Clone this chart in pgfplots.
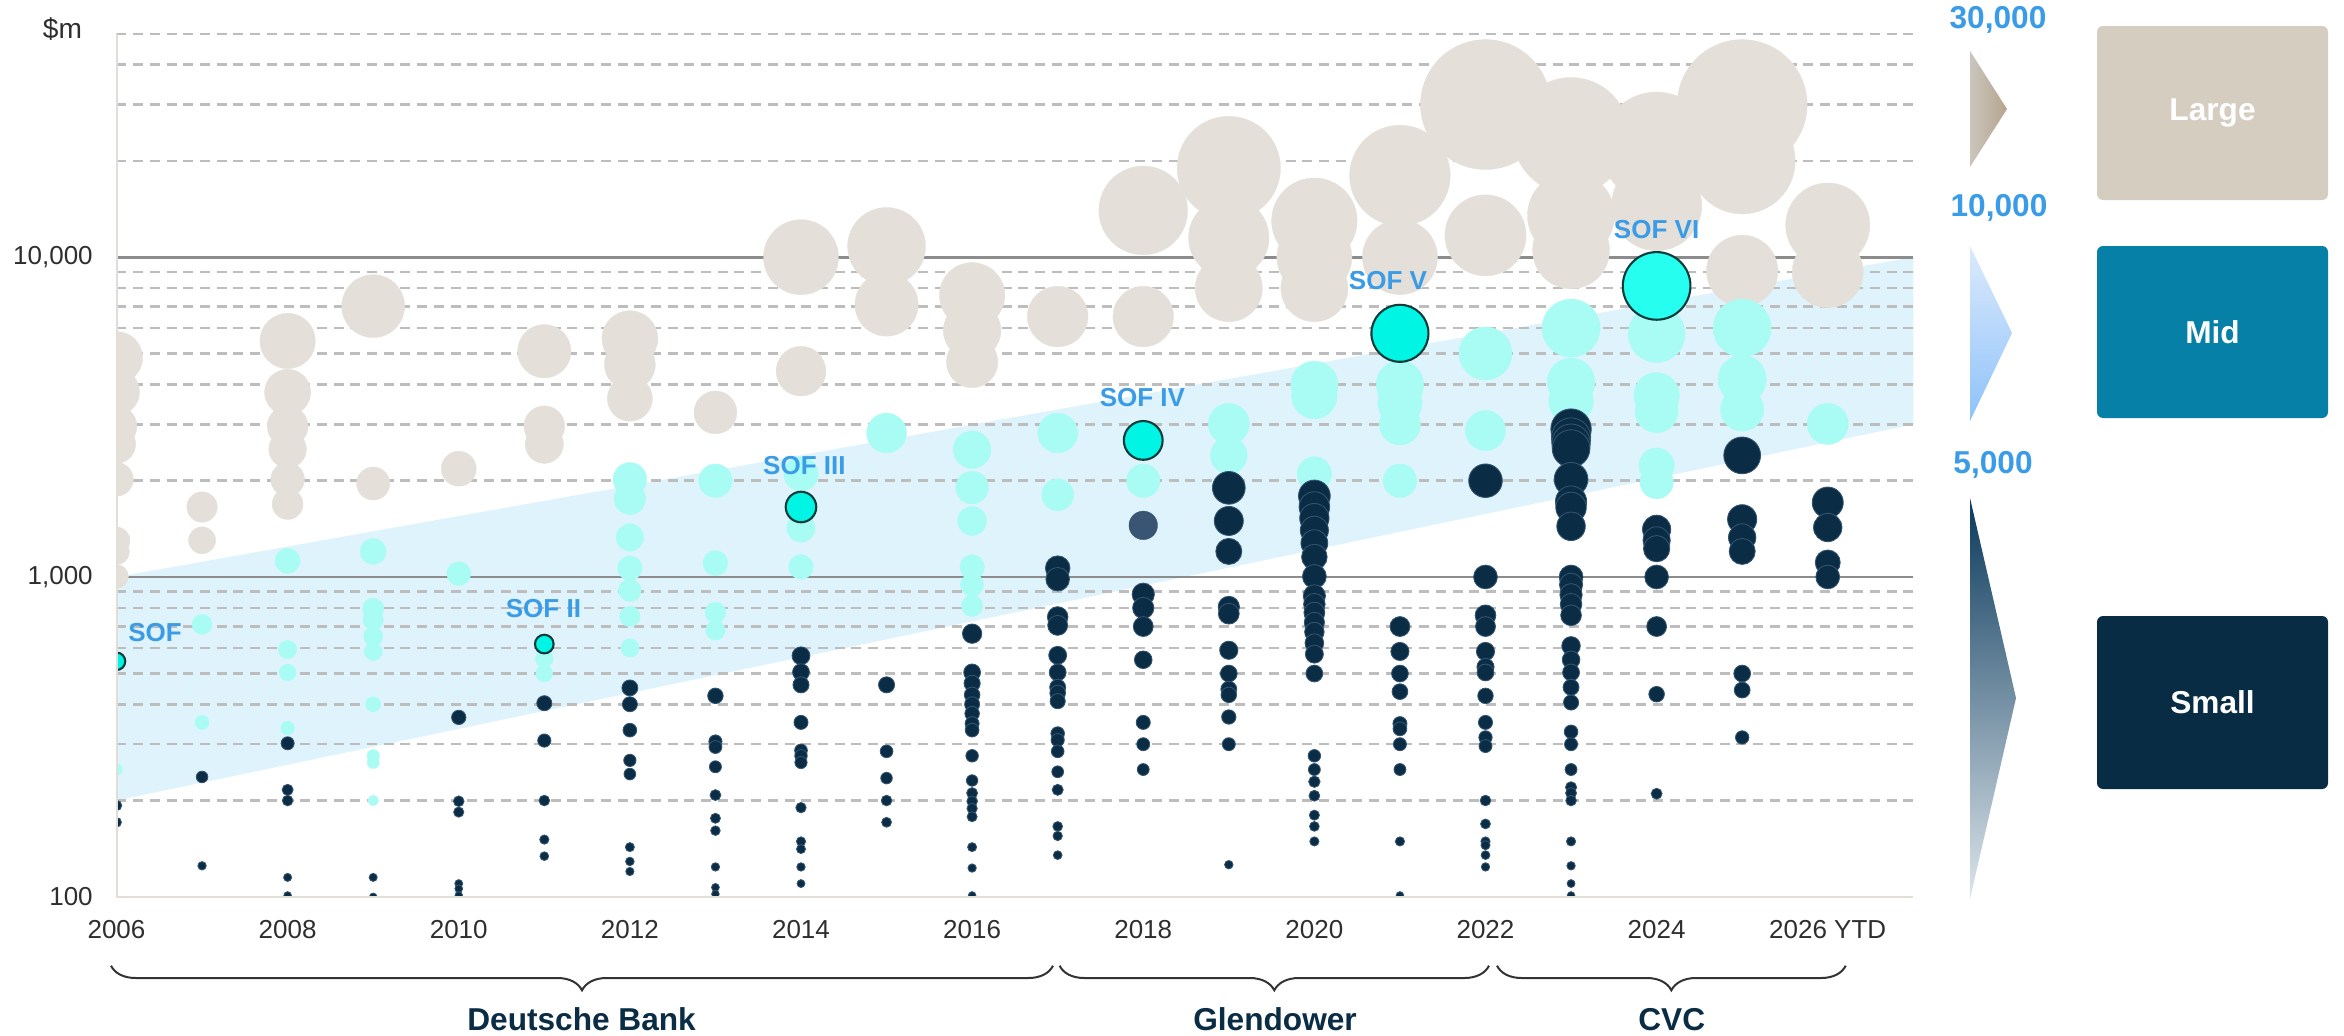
\documentclass[border=0pt]{standalone}
\usepackage{fontspec}
\setmainfont{Liberation Sans}
\usepackage{pgfplots}
\usepackage{pgfplotstable}
\pgfplotsset{compat=1.18}
\usetikzlibrary{decorations.pathreplacing}

\definecolor{cbeige}{HTML}{E4E0D9}
\definecolor{ccyan}{HTML}{A9FCF4}
\definecolor{cnavy}{HTML}{0A2C44}
\definecolor{cnavyedge}{HTML}{34536F}
\definecolor{csof}{HTML}{00F5E4}
\definecolor{csofvi}{HTML}{26FFF0}
\definecolor{csofedge}{HTML}{0B3B3A}
\definecolor{cslate}{HTML}{3A5473}
\definecolor{cband}{HTML}{DFF3FC}
\definecolor{cmajor}{HTML}{8C8C8C}
\definecolor{cminor}{HTML}{BDBDBD}
\definecolor{caxis}{HTML}{E2DDD5}
\definecolor{ctick}{HTML}{2E2E2E}
\definecolor{csoflab}{HTML}{3A9BE6}
\definecolor{cgroup}{HTML}{0A2C44}
\definecolor{cbrace}{HTML}{333333}
\definecolor{clarge}{HTML}{D5CDC0}
\definecolor{cmid}{HTML}{0780A8}
\definecolor{csmall}{HTML}{082C44}
\definecolor{ctri1a}{HTML}{CBC5BD}
\definecolor{ctri1b}{HTML}{B4A58E}
\definecolor{ctri2a}{HTML}{DCEAFC}
\definecolor{ctri2b}{HTML}{8EC2FA}
\definecolor{ctri3a}{HTML}{0B3A5C}
\definecolor{ctri3m}{HTML}{10476C}
\definecolor{ctri3b}{HTML}{DDE5EB}

\pgfplotstableread[row sep=\\]{
x v\\
2006 4850\\ 2006 3790\\ 2006 2960\\ 2006 2600\\ 2006 2020\\ 2006 1300\\ 2006 1200\\ 2006 1004\\
2007 1655\\ 2007 1302\\
2008 5470\\ 2008 3780\\ 2008 2960\\ 2008 2510\\ 2008 2020\\ 2008 1690\\
2009 7030\\ 2009 1960\\
2010 2180\\
2011 5080\\ 2011 2960\\ 2011 2600\\
2012 5560\\ 2012 4620\\ 2012 3610\\
2013 3270\\
2014 10000\\ 2014 4400\\
2015 10800\\ 2015 7110\\
2016 7600\\ 2016 5900\\ 2016 4700\\
2017 6520\\
2018 14000\\ 2018 6520\\
2019 19000\\ 2019 11500\\ 2019 8000\\
2020 13000\\ 2020 10000\\ 2020 8000\\
2021 18000\\ 2021 10000\\
2022 30000\\ 2022 11700\\
2023 24000\\ 2023 13500\\ 2023 10500\\
2024 22000\\ 2024 14500\\
2025 30000\\ 2025 20000\\ 2025 9060\\
2026 12600\\ 2026 8980\\
}\tblbeige

\pgfplotstableread[row sep=\\]{
x v\\
2006 250\\
2007 711\\ 2007 351\\
2008 1123\\ 2008 593\\ 2008 503\\ 2008 337\\
2009 1202\\ 2009 796\\ 2009 735\\ 2009 652\\ 2009 585\\ 2009 400\\ 2009 276\\ 2009 263\\ 2009 200\\
2010 1024\\
2011 556\\ 2011 499\\
2012 2020\\ 2012 1757\\ 2012 1329\\ 2012 1066\\ 2012 908\\ 2012 753\\ 2012 600\\
2013 2000\\ 2013 1105\\ 2013 774\\ 2013 681\\
2014 2100\\ 2014 1422\\ 2014 1075\\
2015 2820\\
2016 2500\\ 2016 1904\\ 2016 1497\\ 2016 1075\\ 2016 946\\ 2016 812\\
2017 2820\\ 2017 1807\\
2018 2000\\
2019 3010\\ 2019 2400\\
2020 3990\\ 2020 3680\\ 2020 2100\\
2021 4000\\ 2021 3500\\ 2021 3000\\ 2021 2000\\
2022 5000\\ 2022 2870\\
2023 6000\\ 2023 4070\\ 2023 3540\\
2024 5750\\ 2024 3700\\ 2024 3300\\ 2024 2230\\ 2024 1980\\
2025 6000\\ 2025 4150\\ 2025 3340\\
2026 3010\\
}\tblcyan

\pgfplotstableread[row sep=\\]{
x v\\
2006 193\\ 2006 171\\
2007 237\\ 2007 125\\
2008 302\\ 2008 216\\ 2008 200\\ 2008 115\\ 2008 101\\
2009 115\\ 2009 100\\
2010 364\\ 2010 199\\ 2010 184\\ 2010 110\\ 2010 106\\ 2010 101\\
2011 403\\ 2011 308\\ 2011 200\\ 2011 151\\ 2011 134\\
2012 450\\ 2012 400\\ 2012 332\\ 2012 267\\ 2012 242\\ 2012 143\\ 2012 129\\ 2012 120\\
2013 425\\ 2013 306\\ 2013 294\\ 2013 255\\ 2013 208\\ 2013 176\\ 2013 161\\ 2013 124\\ 2013 107\\ 2013 102\\
2014 567\\ 2014 504\\ 2014 460\\ 2014 351\\ 2014 287\\ 2014 276\\ 2014 263\\ 2014 190\\ 2014 149\\ 2014 141\\ 2014 124\\ 2014 110\\
2015 460\\ 2015 285\\ 2015 235\\ 2015 200\\ 2015 171\\
2016 665\\ 2016 503\\ 2016 465\\ 2016 428\\ 2016 400\\ 2016 374\\ 2016 348\\ 2016 332\\ 2016 276\\ 2016 231\\ 2016 211\\ 2016 199\\ 2016 189\\ 2016 178\\ 2016 143\\ 2016 123\\ 2016 101\\
2017 1066\\ 2017 984\\ 2017 750\\ 2017 706\\ 2017 569\\ 2017 503\\ 2017 452\\ 2017 434\\ 2017 409\\ 2017 324\\ 2017 309\\ 2017 285\\ 2017 246\\ 2017 216\\ 2017 166\\ 2017 155\\ 2017 135\\
2018 883\\ 2018 800\\ 2018 700\\ 2018 551\\ 2018 351\\ 2018 300\\ 2018 250\\
2019 1900\\ 2019 1497\\ 2019 1202\\ 2019 806\\ 2019 768\\ 2019 590\\ 2019 499\\ 2019 446\\ 2019 428\\ 2019 365\\ 2019 300\\ 2019 126\\
2020 1792\\ 2020 1655\\ 2020 1528\\ 2020 1400\\ 2020 1276\\ 2020 1155\\ 2020 1004\\ 2020 873\\ 2020 822\\ 2020 774\\ 2020 721\\ 2020 673\\ 2020 621\\ 2020 574\\ 2020 499\\ 2020 276\\ 2020 250\\ 2020 229\\ 2020 207\\ 2020 180\\ 2020 166\\ 2020 149\\
2021 700\\ 2021 585\\ 2021 499\\ 2021 438\\ 2021 348\\ 2021 335\\ 2021 300\\ 2021 250\\ 2021 149\\ 2021 101\\
2022 2000\\ 2022 1000\\ 2022 759\\ 2022 700\\ 2022 585\\ 2022 523\\ 2022 503\\ 2022 425\\ 2022 351\\ 2022 315\\ 2022 296\\ 2022 200\\ 2022 169\\ 2022 149\\ 2022 145\\ 2022 135\\ 2022 124\\
2023 2900\\ 2023 2730\\ 2023 2620\\ 2023 2520\\ 2023 2020\\ 2023 1722\\ 2023 1650\\ 2023 1440\\ 2023 1000\\ 2023 946\\ 2023 880\\ 2023 822\\ 2023 759\\ 2023 609\\ 2023 551\\ 2023 503\\ 2023 452\\ 2023 405\\ 2023 328\\ 2023 300\\ 2023 250\\ 2023 220\\ 2023 211\\ 2023 200\\ 2023 149\\ 2023 125\\ 2023 110\\ 2023 101\\
2024 1410\\ 2024 1302\\ 2024 1226\\ 2024 1000\\ 2024 700\\ 2024 430\\ 2024 210\\
2025 2400\\ 2025 1515\\ 2025 1329\\ 2025 1202\\ 2025 499\\ 2025 443\\ 2025 315\\
2026 1709\\ 2026 1428\\ 2026 1110\\ 2026 1000\\
}\tblnavy

\pgfplotstableread[row sep=\\]{
x v\\
2018 1450\\
}\tblslate

\pgfplotstableread[row sep=\\]{
x v\\
2006 545\\ 2011 617\\ 2014 1655\\ 2018 2673\\ 2021 5780\\
}\tblsof

\pgfplotstableread[row sep=\\]{
x v\\
2024 8130\\
}\tblsofvi

\pgfplotsset{
  bub/.style 2 args={scatter, only marks, mark=*, forget plot,
    scatter/use mapped color={draw=#2, fill=#1},
    visualization depends on={0.1067*sqrt(\thisrow{v}) \as \rad},
    scatter/@pre marker code/.append style={/tikz/mark size=\rad}},
}

\begin{document}
\begin{tikzpicture}
\path[use as bounding box] (0,0) rectangle (23.44,10.35);
\begin{axis}[
  at={(1.165cm,1.382cm)}, anchor=south west,
  scale only axis, width=17.968cm, height=8.632cm,
  xmin=2006, xmax=2027, ymin=100, ymax=50000, ymode=log,
  clip marker paths=true,
  axis line style={draw=none},
  xtick={2006,2008,2010,2012,2014,2016,2018,2020,2022,2024,2026},
  xticklabels={2006,2008,2010,2012,2014,2016,2018,2020,2022,2024,2026 YTD},
  ytick={100,1000,10000}, yticklabels={100,{1,000},{10,000}},
  minor ytick={},
  major tick length=0pt, minor tick length=0pt,
  tick style={draw=none},
  tick label style={font=\fontsize{7.4}{8}\selectfont, text=ctick, inner sep=0pt},
  yticklabel style={anchor=east, xshift=-0.231cm},
  xticklabel style={anchor=base, yshift=-0.416cm},
]
\addplot[fill=cband, draw=none, forget plot]
  coordinates {(2006,200) (2027,3000) (2027,10000) (2006,1000)} -- cycle;

\pgfplotsinvokeforeach{200,300,400,500,600,700,800,900,2000,3000,4000,5000,6000,7000,8000,9000,20000,30000,40000,50000}{
  \addplot[draw=cminor, line width=0.025cm, dash pattern=on 0.1cm off 0.067cm, forget plot]
    coordinates {(2006,#1) (2027,#1)};
}
\pgfplotsinvokeforeach{1000,10000}{
  \addplot[draw=cmajor, line width=0.028cm, forget plot]
    coordinates {(2006,#1) (2027,#1)};
}

\addplot[bub={cbeige}{cbeige}, line width=0.1pt] table[x=x,y=v]{\tblbeige};
\addplot[bub={ccyan}{ccyan}, line width=0.1pt] table[x=x,y=v]{\tblcyan};
\addplot[bub={cnavy}{cnavyedge}, line width=0.25pt] table[x=x,y=v]{\tblnavy};
\addplot[bub={cslate}{cslate}, line width=0.1pt] table[x=x,y=v]{\tblslate};
\addplot[bub={csof}{csofedge}, line width=0.6pt] table[x=x,y=v]{\tblsof};
\addplot[bub={csofvi}{csofedge}, line width=0.6pt] table[x=x,y=v]{\tblsofvi};

\coordinate (l1) at (axis cs:2006.45,670);
\coordinate (l2) at (axis cs:2010.99,796);
\coordinate (l3) at (axis cs:2014.04,2230);
\coordinate (l4) at (axis cs:2017.99,3630);
\coordinate (l5) at (axis cs:2020.86,8430);
\coordinate (l6) at (axis cs:2024.0,12170);
\end{axis}

\begin{scope}[every node/.style={font=\bfseries\fontsize{7.4}{8}\selectfont, text=csoflab}]
\node at (l1) {SOF};
\node at (l2) {SOF II};
\node at (l3) {SOF III};
\node at (l4) {SOF IV};
\node at (l5) {SOF V};
\node at (l6) {SOF VI};
\end{scope}

% axis lines
\draw[caxis, line width=0.02cm] (1.165,10.014) -- (1.165,1.382) -- (19.133,1.382);

% unit label
\node[font=\fontsize{8}{9}\selectfont, text=ctick] at (0.625,10.063) {\$m};

% braces
\begin{scope}[cbrace, line width=0.02cm, decoration={brace, mirror, amplitude=0.246cm}]
\draw[decorate] (1.11,0.693) -- (10.53,0.693);
\draw[decorate] (10.596,0.693) -- (14.89,0.693);
\draw[decorate] (14.97,0.693) -- (18.457,0.693);
\end{scope}
\begin{scope}[every node/.style={anchor=base, font=\bfseries\fontsize{9}{10}\selectfont, text=cgroup}]
\node at (5.816,0.045) {Deutsche Bank};
\node at (12.75,0.045) {Glendower};
\node at (16.717,0.045) {CVC};
\end{scope}

% right legend
\begin{scope}[every node/.style={font=\bfseries\fontsize{9}{10}\selectfont, text=csoflab}]
\node at (19.98,10.152) {30,000};
\node at (19.99,8.27) {10,000};
\node at (19.93,5.70) {5,000};
\end{scope}
\shade[left color=ctri1a, right color=ctri1b] (19.70,9.84) -- (20.07,9.26) -- (19.70,8.68) -- cycle;
\shade[top color=ctri2a, bottom color=ctri2b] (19.70,7.89) -- (20.12,7.02) -- (19.70,6.14) -- cycle;
\shade[top color=ctri3a, middle color=ctri3m, bottom color=ctri3b] (19.70,5.37) -- (20.16,3.37) -- (19.70,1.36) -- cycle;

\fill[clarge, rounded corners=0.06cm] (20.97,8.35) rectangle (23.28,10.09);
\fill[cmid, rounded corners=0.06cm] (20.97,6.17) rectangle (23.28,7.89);
\fill[csmall, rounded corners=0.06cm] (20.97,2.46) rectangle (23.28,4.19);
\begin{scope}[every node/.style={font=\bfseries\fontsize{9}{10}\selectfont, text=white}]
\node at (22.125,9.22) {Large};
\node at (22.125,7.03) {Mid};
\node at (22.125,3.325) {Small};
\end{scope}
\end{tikzpicture}
\end{document}
